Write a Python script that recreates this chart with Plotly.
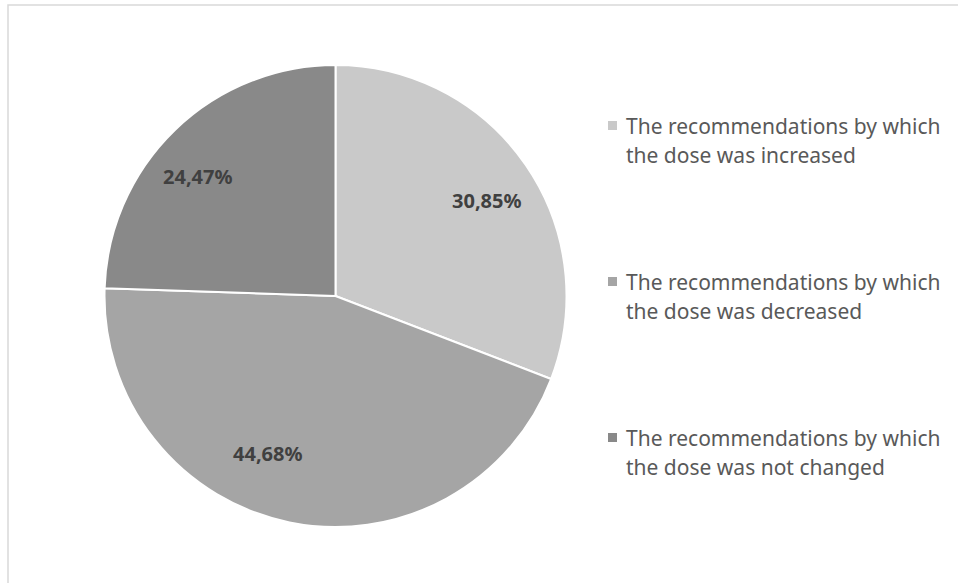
import math
import plotly.graph_objects as go

W, H = 958, 583

categories = [
    "The recommendations by which<br>the dose was increased",
    "The recommendations by which<br>the dose was decreased",
    "The recommendations by which<br>the dose was not changed",
]
shares = [30.85, 44.68, 24.47]
colors = ["#c9c9c9", "#a5a5a5", "#898989"]
value_labels = [f"{v:.2f}%".replace(".", ",") for v in shares]

# pie geometry in pixels
cx, cy, r = 335.5, 296, 231
# value labels sit at this fraction of the radius, on each slice's mid-angle,
# with a small per-slice nudge (pixels) for best fit
label_radius = 0.77
label_nudge = [(5, 5), (-32, -17), (-14, 8)]


def px_x(x):
    return x / W


def px_y(y):
    return 1 - y / H


fig = go.Figure(
    go.Pie(
        labels=categories,
        values=shares,
        text=value_labels,
        textinfo="none",
        marker=dict(colors=colors, line=dict(color="white", width=2)),
        sort=False,
        direction="clockwise",
        rotation=0,
        domain=dict(x=[px_x(cx - r), px_x(cx + r)], y=[px_y(cy + r), px_y(cy - r)]),
        showlegend=False,
        hoverinfo="label+text",
    )
)

annotations = []
shapes = []

# value labels placed from the slice angles
total = sum(shares)
start = 0.0
for v, txt, (nx, ny) in zip(shares, value_labels, label_nudge):
    mid = math.radians((start + v / 2) / total * 360)
    start += v
    lx = cx + label_radius * r * math.sin(mid) + nx
    ly = cy - label_radius * r * math.cos(mid) + ny
    annotations.append(dict(
        text=f"<b>{txt}</b>", xref="paper", yref="paper",
        x=px_x(lx), y=px_y(ly), xanchor="center", yanchor="middle",
        showarrow=False,
        font=dict(family="Noto Sans", size=20, color="#404040"),
    ))

# legend drawn beside the pie
legend_top = [126, 282, 438]
line_gap = 29
for name, col, y in zip(categories, colors, legend_top):
    shapes.append(dict(
        type="rect", xref="paper", yref="paper",
        x0=px_x(608), x1=px_x(617), y0=px_y(y + 4), y1=px_y(y - 5),
        fillcolor=col, line=dict(width=0),
    ))
    for i, part in enumerate(name.split("<br>")):
        annotations.append(dict(
            text=part, xref="paper", yref="paper",
            x=px_x(624), y=px_y(y + i * line_gap), xanchor="left", yanchor="middle",
            align="left", showarrow=False,
            font=dict(family="Noto Sans", size=21, color="#595959"),
        ))

# outer frame
shapes.append(dict(
    type="rect", xref="paper", yref="paper",
    x0=px_x(8), x1=px_x(1000), y0=px_y(620), y1=px_y(5),
    line=dict(color="#d9d9d9", width=1.5), fillcolor="rgba(0,0,0,0)",
))

fig.update_layout(
    width=W, height=H,
    margin=dict(l=0, r=0, t=0, b=0),
    paper_bgcolor="white", plot_bgcolor="white",
    annotations=annotations, shapes=shapes,
)

fig.write_html("out.html")
